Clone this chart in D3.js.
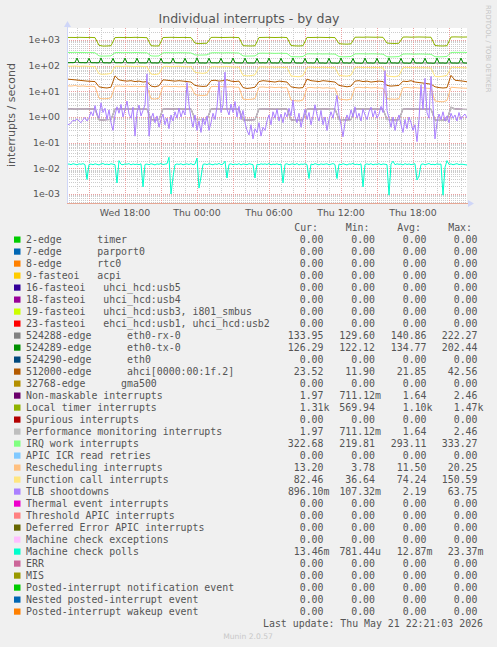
<!DOCTYPE html>
<html><head><meta charset="utf-8">
<script src="https://cdn.jsdelivr.net/npm/d3@7"></script>
<style>
body{margin:0;background:#f0f0f0}
svg{display:block}
text{white-space:pre}
</style>
</head><body>
<svg id="c" width="497" height="647"></svg>
<script>
// ---- time window and axis limits ----
const START = Date.UTC(2026, 4, 20, 13, 10);
const END = Date.UTC(2026, 4, 21, 22, 30);
const yDomain = [0.000446, 2934];
const yTickValues = [1e-3, 1e-2, 1e-1, 1, 10, 100, 1000];

// ---- series values (interrupts / second) ----
const ethRx = [
132,131,133,131,132,130,131,132,130,131,
131,130,132,130,131,129,130,131,129,130,
130,129,131,129,130,128,129,130,128,129,
129,128,130,128,129,128,129,130,128,129,
129,128,129,127,128,127,128,129,127,128,
128,127,129,127,128,127,128,129,127,128,
128,127,128,126,127,126,127,128,126,127,
128,127,128,126,127,126,127,128,126,127,
127,126,128,126,127,126,127,128,126,127,
127,126,127,125,127,126,127,128,126,127,
127];

const ethTx = [
131,130,132,130,134,198, 133,130,131,129,132,195, 131,129,130,128,131,200,
130,128,129,127,130,194, 130,129,131,128,132,197, 131,129,130,128,131,196,
130,128,129,127,130,199, 129,127,128,126,129,193, 130,128,130,127,131,198,
131,129,130,128,130,195, 130,128,129,127,130,202, 129,127,128,126,129,196,
130,128,129,127,131,194, 129,127,128,126,129,199, 130,128,129,127,130,197,
129,127,128,126,129,193, 130,128,130,127,130,198, 129,127,128,126,129,195,
130,128,129,127,130,200, 129,126,128,125,129,194, 130,127,129,126,130,197,
129,127,128,125,128,196, 128,126,127,124,128,199, 129,127,128,125,129,193,
128,126,127,124,128,198, 129,127,128,125,129,195, 128,126,127,124,127,201,
129,127,128,125,128,194, 128,126,127,124,128,197, 129,126,128,125,129,196,
128,126,127,124,127,199, 129,127,128,125,128,195, 128,126,127,125,128,198,
129,127,126];

const ahci = [
30,29,28,27,26,25,24.5,24,
15,14,13.5,14.5,
40,28,26,25,26,24,25,23,24,
16,15,16.5,
28,27,26,25,26,25,24,23,
17,16,15.5,16,
26,27,25,26,28,25,24,25,
14,13,13.5,14.5,
24,26,25,24,23,25,24,23,
15,14,13.5,14,
30,26,25,24,26,25,24,23,
17,16,15,16,
25,26,24,25,23,24,25,24,
17,16,16.5,17,
25,24,26,23,22,21,20,19,
15,14,13.5,14,
42,27,26,25,23.5];

const nmi = [
2.05,2.08,2.04,2.06,2.05,2.07,2.03,2.05,
0.78,0.76,0.79,0.80,
2.06,2.04,2.07,2.05,2.03,2.06,2.04,2.05,2.02,
0.79,0.77,0.80,
2.04,2.06,2.03,2.05,2.07,2.04,2.02,2.05,
0.82,0.80,0.79,0.81,
2.05,2.07,2.04,2.06,2.03,2.05,2.04,2.02,
0.78,0.76,0.77,0.79,
2.04,2.06,2.03,2.05,2.02,2.04,2.06,2.03,
0.77,0.75,0.76,0.78,
2.03,2.05,2.02,2.04,2.06,2.03,2.01,2.04,
0.80,0.78,0.77,0.79,
2.05,2.07,2.04,2.06,2.03,2.05,2.02,2.04,
0.80,0.78,0.77,0.79,
2.04,2.06,2.03,2.05,2.02,2.04,2.03,2.01,
0.76,0.74,0.75,0.78,
2.40,2.05,2.03,1.99,1.97];
const perfMon = nmi.slice();

const localTimer = [
1250,1260,1250,1270,1260,1250,1260,1240,
620,580,585,600,
1240,1260,1250,1260,1250,1270,1260,1250,1230,
600,585,590,
1250,1260,1270,1260,1250,1260,1250,1240,
760,720,740,750,
1260,1270,1260,1250,1260,1270,1260,1240,
600,590,585,595,
1250,1260,1270,1260,1250,1260,1270,1240,
610,590,585,600,
1260,1250,1260,1270,1260,1250,1260,1240,
720,700,690,710,
1280,1290,1280,1300,1290,1280,1290,1270,
760,740,730,750,
1300,1310,1290,1300,1310,1300,1290,1280,
610,590,585,600,
1310,1320,1310,1300,1310];

const irqWork = [
328,326,330,325,327,322,326,318,
240,236,238,242,
322,325,320,324,321,326,323,320,318,
240,236,239,
318,322,320,317,321,319,316,314,
262,258,260,264,
316,320,318,315,319,317,314,312,
240,236,238,240,
305,308,304,306,302,305,303,300,
226,224,222,228,
288,290,286,289,285,288,284,282,
226,222,224,228,
286,290,288,285,289,287,284,280,
224,220,222,226,
282,286,284,281,285,283,280,278,
224,221,223,230,
326,330,328,332,325];

const rescheduling = [
16.5,16,16.8,15.8,16.2,15.5,15.9,15.2,
5.4,5.1,5.2,5.6,
15.8,16.2,15.6,16,15.4,15.8,15.2,15.6,15,
5.2,5.0,5.4,
15.5,15.8,15.2,15.6,15,15.4,14.8,15,
7.5,7.0,6.8,7.2,
15.2,15.6,15,15.3,14.8,15.1,14.6,14.4,
5.0,4.8,4.9,5.2,
14.5,14.8,14.2,14.6,14,14.4,13.8,14,
4.5,4.3,4.2,4.6,
13.8,14.2,13.6,14,13.4,13.8,13.2,13.5,
5.0,4.8,4.6,5.0,
14,14.4,13.8,14.2,13.6,14,13.5,13.2,
5.2,5.0,4.9,5.2,
13.8,14.2,13.6,14,13.4,13.8,13.2,13,
4.2,4.0,3.9,4.4,
14.5,14,13.6,13.4,13.2];

const functionCall = [
96,95,97,94,96,95,93,92,
48,46,47,50,
94,95,93,96,94,92,95,93,91,
47,45,48,
92,94,91,93,95,92,90,91,
55,52,50,54,
90,92,89,91,93,90,88,87,
42,40,41,44,
88,90,87,89,86,88,85,86,
40,38,37,41,
86,88,85,84,87,85,83,84,
42,40,39,43,
85,87,84,86,83,85,84,82,
40,38,37,41,
84,86,83,85,82,84,83,80,
38,37,39,42,
86,86,84,83,82];

const tlb = [
0.55,0.5,0.6,0.75,0.7,0.85,0.7,0.6,0.8,0.95,0.7,0.9,
1.6,1.1,2.8,1.3,0.9,3.6,1.5,2.2,0.8,1.9,0.6,0.3,
1.2,2.5,1.4,3.1,1.0,2.0,4.2,1.3,0.9,2.4,0.18,1.5,2.9,1.1,1.8,3.0,
48,
0.18,0.9,1.4,0.6,1.1,0.4,0.8,1.3,0.5,0.9,0.35,1.2,0.7,1.6,0.9,2.2,1.0,1.8,1.2,
22,3.0,
0.9,0.4,1.2,0.3,0.7,0.25,0.9,0.5,1.1,0.3,0.6,1.4,0.8,
2.5,24,1.5,3.0,56,2.0,
1.2,3.2,1.5,4.0,1.0,2.6,0.8,1.8,0.6,
0.3,0.2,0.5,0.14,0.35,0.25,0.6,0.18,0.4,0.3,
0.7,1.2,0.5,1.6,0.9,2.0,0.7,1.3,0.6,1.5,1.0,2.2,1.1,
4.6,
1.0,0.6,1.4,0.4,0.9,2.0,0.8,1.5,0.5,1.1,3.0,1.2,0.7,1.8,0.5,1.0,0.3,0.8,1.6,0.9,2.4,
7.0,
1.2,0.5,
0.17,
0.6,1.2,0.8,1.9,1.0,2.5,0.9,1.4,0.7,2.0,1.2,0.8,1.6,2.4,1.0,1.8,0.9,1.3,2.6,1.5,
64,
1.8,0.9,0.4,1.0,0.3,0.7,1.2,0.5,0.25,0.8,0.35,1.0,0.6,0.3,0.5,
0.11,
0.8,18,2.0,32,1.5,0.9,38,3.0,0.14,
0.6,1.3,0.8,1.6,0.7,1.1,0.6,1.4,0.9,1.2,0.7,1.5,0.8,1.1,1.3,0.9];

const mcePolls = [
.0142,.0148,.0139,.0151,.0145,.0137,.0149,.0144,.0152,.0140,
.0037,.0141,.0147,.0138,.0150,.0143,.0136,.0148,.0153,.0141,
.0146,.0139,.0151,.0144,.0140,.0027,.0200,.0143,.0138,.0149,
.0145,.0152,.0137,.0148,.0141,.0146,.0139,.0150,.0019,.0142,
.0147,.0138,.0151,.0144,.0136,.0149,.0143,.0155,.0140,.0146,
.0150,.0270,.0010,.0046,.0139,.0148,.0142,.0151,.0137,.0145,
.0149,.0141,.0153,.0138,.0146,.0250,.0017,.0046,.0143,.0148,
.0140,.0151,.0144,.0137,.0149,.0142,.0155,.0139,.0146,.0190,
.0042,.0143,.0150,.0138,.0147,.0141,.0152,.0136,.0148,.0144,
.0139,.0151,.0145,.0140,.0042,.0146,.0138,.0150,.0143,.0149,
.0141,.0154,.0137,.0146,.0142,.0150,.0139,.0147,.0027,.0144,
.0151,.0138,.0145,.0149,.0140,.0153,.0136,.0147,.0143,.0150,
.0141,.0040,.0148,.0139,.0152,.0144,.0137,.0149,.0142,.0146,
.0150,.0138,.0145,.0153,.0141,.0040,.0147,.0139,.0151,.0143,
.0136,.0148,.0144,.0155,.0140,.0146,.0138,.0150,.0019,.0142,
.0149,.0141,.0152,.0137,.0146,.0143,.0151,.0139,.0148,.0144,
.0140,.0009,.0146,.0190,.0138,.0150,.0143,.0147,.0136,.0152,
.0141,.0148,.0139,.0145,.0151,.0035,.0050,.0142,.0149,.0137,
.0146,.0153,.0140,.0144,.0138,.0150,.0143,.0147,.0009,.0110,
.0200,.0141,.0149,.0138,.0145,.0152,.0140,.0146,.0143,.0139,
.0135];

// ---- legend ----
const legendNames = [
"2-edge      timer","7-edge      parport0","8-edge      rtc0","9-fasteoi   acpi",
"16-fasteoi   uhci_hcd:usb5","18-fasteoi   uhci_hcd:usb4",
"19-fasteoi   uhci_hcd:usb3, i801_smbus","23-fasteoi   ehci_hcd:usb1, uhci_hcd:usb2",
"524288-edge      eth0-rx-0","524289-edge      eth0-tx-0","524290-edge      eth0",
"512000-edge      ahci[0000:00:1f.2]","32768-edge      gma500",
"Non-maskable interrupts","Local timer interrupts","Spurious interrupts",
"Performance monitoring interrupts","IRQ work interrupts","APIC ICR read retries",
"Rescheduling interrupts","Function call interrupts","TLB shootdowns",
"Thermal event interrupts","Threshold APIC interrupts","Deferred Error APIC interrupts",
"Machine check exceptions","Machine check polls","ERR","MIS",
"Posted-interrupt notification event","Nested posted-interrupt event","Posted-interrupt wakeup event"];
const legendColors = [
"#00CC00","#0066B3","#FF8000","#FFCC00","#330099","#990099","#CCFF00","#FF0000",
"#808080","#008F00","#00487D","#B35A00","#B38F00","#6B006B","#8FB300","#B30000",
"#BEBEBE","#80FF80","#80C9FF","#FFC080","#FFE680","#AA80FF","#EE00CC","#FF8080",
"#666600","#FFBFFF","#00FFCC","#CC6699","#999900","#00CC00","#0066B3","#FF8000"];
const curVals = ["0.00","0.00","0.00","0.00","0.00","0.00","0.00","0.00","133.95","126.29","0.00","23.52","0.00","1.97","1.31k","0.00","1.97","322.68","0.00","13.20","82.46","896.10m","0.00","0.00","0.00","0.00","13.46m","0.00","0.00","0.00","0.00","0.00"];
const minVals = ["0.00","0.00","0.00","0.00","0.00","0.00","0.00","0.00","129.60","122.12","0.00","11.90","0.00","711.12m","569.94","0.00","711.12m","219.81","0.00","3.78","36.64","107.32m","0.00","0.00","0.00","0.00","781.44u","0.00","0.00","0.00","0.00","0.00"];
const avgVals = ["0.00","0.00","0.00","0.00","0.00","0.00","0.00","0.00","140.86","134.77","0.00","21.85","0.00","1.64","1.10k","0.00","1.64","293.11","0.00","11.50","74.24","2.19","0.00","0.00","0.00","0.00","12.87m","0.00","0.00","0.00","0.00","0.00"];
const maxVals = ["0.00","0.00","0.00","0.00","0.00","0.00","0.00","0.00","222.27","202.44","0.00","42.56","0.00","2.46","1.47k","0.00","2.46","333.27","0.00","20.25","150.59","63.75","0.00","0.00","0.00","0.00","23.37m","0.00","0.00","0.00","0.00","0.00"];
const columnHeads = ["Cur:","Min:","Avg:","Max:"];

// drawn series in legend (draw) order
const drawn = [
  {name:"524288-edge      eth0-rx-0", data: ethRx},
  {name:"524289-edge      eth0-tx-0", data: ethTx},
  {name:"512000-edge      ahci[0000:00:1f.2]", data: ahci},
  {name:"Non-maskable interrupts", data: nmi},
  {name:"Local timer interrupts", data: localTimer},
  {name:"Performance monitoring interrupts", data: perfMon, w: 1.4},
  {name:"IRQ work interrupts", data: irqWork},
  {name:"Rescheduling interrupts", data: rescheduling},
  {name:"Function call interrupts", data: functionCall},
  {name:"TLB shootdowns", data: tlb},
  {name:"Machine check polls", data: mcePolls}
];

// ---- drawing ----
const svg = d3.select("#c");
const L = 67, R = 467, T = 28, B = 203;
const FONT = "DejaVu Sans, Verdana, sans-serif";
const MONO = "DejaVu Sans Mono, monospace";
const TXT = "#555";

svg.append("rect").attr("width",497).attr("height",647).attr("fill","#f0f0f0");
svg.append("rect").attr("x",L).attr("y",T).attr("width",R-L).attr("height",B-T).attr("fill","#fff");

const x = d3.scaleUtc().domain([START, END]).range([L, R]);
const y = d3.scaleLog().domain(yDomain).range([B, T]);

const grid = svg.append("g").attr("shape-rendering","crispEdges");
// horizontal minor grid
for (let e = -4; e <= 3; e++) {
  for (let m = 2; m <= 9; m++) {
    const v = m * Math.pow(10, e);
    if (v < yDomain[0] || v > yDomain[1]) continue;
    const yy = Math.round(y(v)) + 0.5;
    grid.append("line").attr("x1",L).attr("x2",R).attr("y1",yy).attr("y2",yy)
      .attr("stroke","#cccccc").attr("stroke-dasharray","1,1");
  }
}
// vertical grid
const hours = d3.utcHour.range(new Date(START), new Date(END));
hours.forEach(h => {
  const xx = Math.round(x(h)) + 0.5;
  const major = h.getUTCHours() % 3 === 0;
  grid.append("line").attr("x1",xx).attr("x2",xx).attr("y1",T).attr("y2",B)
    .attr("stroke", major ? "#eaa0a0" : "#cccccc").attr("stroke-dasharray","1,1");
});
// horizontal major grid
yTickValues.forEach(v => {
  const yy = Math.round(y(v)) + 0.5;
  grid.append("line").attr("x1",L).attr("x2",R).attr("y1",yy).attr("y2",yy)
    .attr("stroke","#eaa0a0").attr("stroke-dasharray","1,1");
});

// series
svg.append("clipPath").attr("id","clip").append("rect")
  .attr("x",L).attr("y",T).attr("width",R-L).attr("height",B-T);
const line = d3.line().x(d => x(d.t)).y(d => y(d.v));
const gLines = svg.append("g").attr("clip-path","url(#clip)");
drawn.forEach(s => {
  const n = s.data.length;
  const pts = s.data.map((v,i) => ({t: new Date(START + i*(END-START)/(n-1)), v}));
  const col = legendColors[legendNames.indexOf(s.name)];
  gLines.append("path").attr("d", line(pts)).attr("fill","none")
    .attr("stroke", col).attr("stroke-width", s.w || 1);
});

// axes
svg.append("line").attr("x1",L).attr("x2",R+1).attr("y1",B+0.5).attr("y2",B+0.5)
  .attr("stroke","#e6a896").attr("shape-rendering","crispEdges");
svg.append("line").attr("x1",L+0.5).attr("x2",L+0.5).attr("y1",B).attr("y2",T-5)
  .attr("stroke","#cfd6f8").attr("shape-rendering","crispEdges");
svg.append("path").attr("d",`M${R+1},${B-3} L${R+7},${B+0.5} L${R+1},${B+4} Z`).attr("fill","#cfd6f8");
svg.append("path").attr("d",`M${L-3},${T-1} L${L+0.5},${T-7} L${L+4},${T-1} Z`).attr("fill","#cfd6f8");

// y tick labels
const fmtExp = v => { const e = Math.round(Math.log10(v)); return "1e" + (e < 0 ? "-" : "+") + String(Math.abs(e)).padStart(2,"0"); };
svg.append("g").selectAll("text").data(yTickValues).join("text")
  .attr("x",60).attr("y",d => y(d) + 3.5).attr("text-anchor","end")
  .attr("font-family",FONT).attr("font-size",9.4).attr("fill",TXT).text(fmtExp);

// x tick labels
const labelHours = hours.filter(h => h.getUTCHours() % 6 === 0);
const fmtTime = d3.utcFormat("%a %H:%M");
svg.append("g").selectAll("text").data(labelHours).join("text")
  .attr("x",d => x(d)).attr("y",216).attr("text-anchor","middle")
  .attr("font-family",FONT).attr("font-size",9.4).attr("fill",TXT).text(fmtTime);

// title
svg.append("text").attr("x",249).attr("y",23).attr("text-anchor","middle")
  .attr("font-family",FONT).attr("font-size",12.5).attr("fill",TXT)
  .text("Individual interrupts - by day");
// vertical label
svg.append("text").attr("transform","translate(15,115) rotate(-90)").attr("text-anchor","middle")
  .attr("font-family",FONT).attr("font-size",11).attr("fill",TXT).text("interrupts / second");
// watermark
svg.append("text").attr("transform","translate(486,5) rotate(90)")
  .attr("font-family",FONT).attr("font-size",6.8).attr("fill","#c4c4c4").text("RRDTOOL / TOBI OETIKER");

// legend
const colEnds = [323.5, 375, 426.5, 477.5];
const lg = svg.append("g").attr("font-family",MONO).attr("font-size",9.9).attr("fill",TXT);
columnHeads.forEach((h,k) => {
  lg.append("text").attr("x",colEnds[k]-5.5).attr("y",231).attr("text-anchor","end").text(h);
});
const cols = [curVals, minVals, avgVals, maxVals];
legendNames.forEach((nm,i) => {
  const by = 243 + 12*i;
  lg.append("rect").attr("x",14).attr("y",by-6.5).attr("width",6.5).attr("height",6.2)
    .attr("fill",legendColors[i]);
  lg.append("text").attr("x",26).attr("y",by).text(nm);
  cols.forEach((arr,k) => {
    const s = arr[i];
    const suff = /[a-z]$/i.test(s);
    lg.append("text").attr("x",colEnds[k] + (suff ? 6 : 0)).attr("y",by)
      .attr("text-anchor","end").text(s);
  });
});
lg.append("text").attr("x",483).attr("y",627).attr("text-anchor","end")
  .text("Last update: Thu May 21 22:21:03 2026");
svg.append("text").attr("x",248).attr("y",639).attr("text-anchor","middle")
  .attr("font-family",FONT).attr("font-size",7.6).attr("fill","#c8c8c8").text("Munin 2.0.57");
</script>
</body></html>
